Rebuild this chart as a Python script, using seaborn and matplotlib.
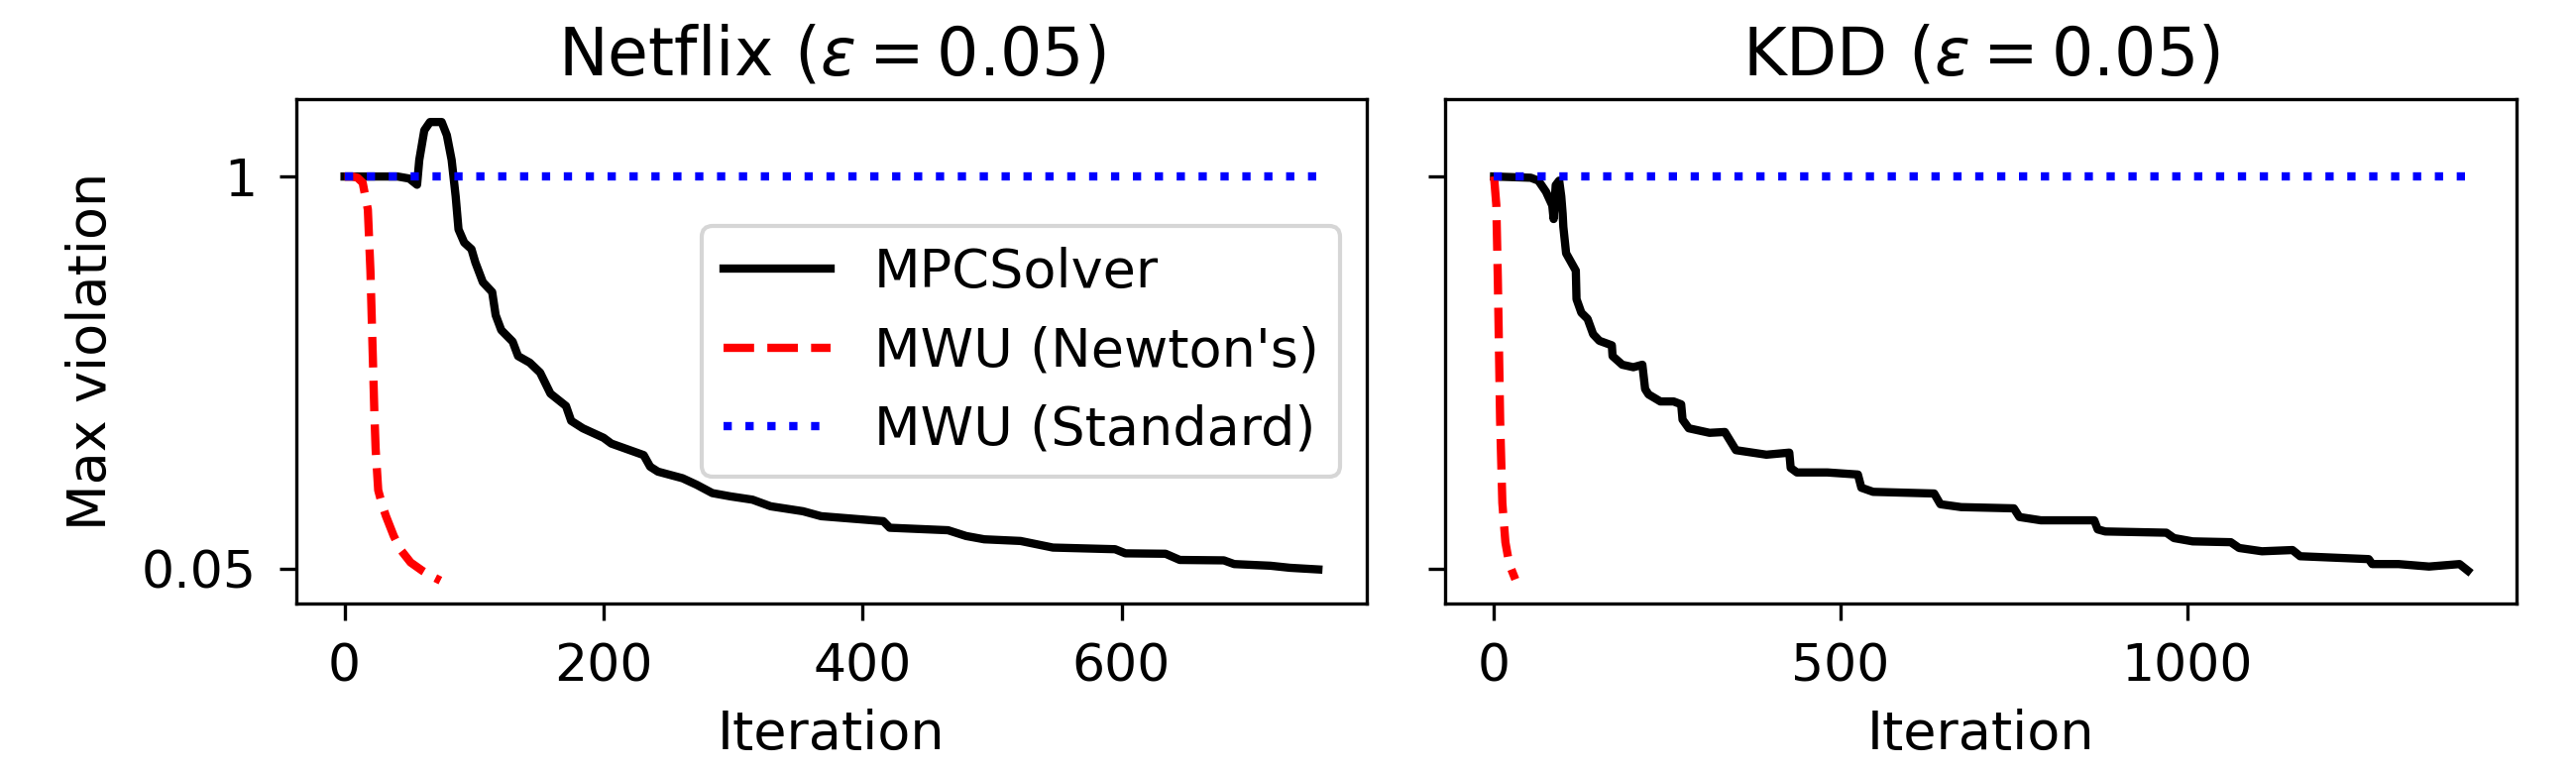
import numpy as np
import pandas as pd
import matplotlib
matplotlib.use("Agg")
import matplotlib.pyplot as plt
import seaborn as sns

# Netflix panel
nf_mpc_it = [0, 41, 50, 56, 57.7, 61.6, 66, 75, 79, 82.7, 85.8, 88, 92.4, 98, 101, 106.8,
             114, 116.7, 121, 129.8, 134, 143, 151, 159, 171, 175, 184, 200, 206, 231, 236,
             242, 261, 272, 284, 298, 315, 329, 354, 368, 416, 421, 466, 480, 494, 522, 547,
             595, 603, 634, 645, 679, 687, 715, 730, 752]
nf_mpc_val = [1.0, 1.0, 0.995, 0.98, 1.04, 1.112, 1.132, 1.132, 1.10, 1.04, 0.952, 0.872, 0.84,
              0.824, 0.792, 0.744, 0.72, 0.664, 0.628, 0.60, 0.565, 0.549, 0.525, 0.474, 0.444,
              0.408, 0.39, 0.367, 0.353, 0.325, 0.297, 0.285, 0.269, 0.253, 0.233, 0.225, 0.217,
              0.201, 0.189, 0.177, 0.165, 0.149, 0.143, 0.129, 0.121, 0.117, 0.101, 0.097, 0.087,
              0.086, 0.071, 0.070, 0.061, 0.057, 0.052, 0.048]
nf_newton_it = [0, 6, 10, 14, 18, 20, 21.5, 23, 24, 26, 29, 32, 38, 43, 51, 60, 67, 74]
nf_newton_val = [1.0, 1.0, 0.997, 0.985, 0.92, 0.77, 0.6, 0.43, 0.34, 0.24, 0.205, 0.177,
                 0.129, 0.097, 0.065, 0.045, 0.032, 0.021]
nf_std_it = [0, 752]
nf_std_val = [1.0, 1.0]

# KDD panel
kdd_mpc_it = [0, 53, 64, 75, 84, 86, 89, 94, 97, 99, 100, 104, 111, 118, 119, 126, 135, 143,
              152, 170, 171, 185, 201, 214, 218, 223, 240, 259, 270, 272, 281, 311, 333, 349,
              393, 426, 428, 437, 481, 525, 530, 547, 635, 644, 674, 750, 758, 789, 866, 871,
              882, 970, 981, 1008, 1063, 1075, 1108, 1152, 1163, 1262, 1267, 1305, 1349, 1393,
              1405]
kdd_mpc_val = [1.0, 0.997, 0.99, 0.963, 0.93, 0.897, 0.979, 0.99, 0.952, 0.91, 0.878, 0.814,
               0.793, 0.772, 0.703, 0.67, 0.655, 0.618, 0.602, 0.591, 0.565, 0.544, 0.538, 0.544,
               0.485, 0.472, 0.455, 0.455, 0.448, 0.411, 0.39, 0.379, 0.381, 0.337, 0.326, 0.331,
               0.294, 0.283, 0.283, 0.278, 0.246, 0.236, 0.232, 0.206, 0.199, 0.196, 0.175, 0.167,
               0.167, 0.145, 0.14, 0.137, 0.124, 0.116, 0.114, 0.10, 0.092, 0.095, 0.08, 0.073,
               0.061, 0.061, 0.055, 0.061, 0.045]
kdd_newton_it = [0, 3.3, 5.5, 8.8, 12, 16.4, 22, 30.7]
kdd_newton_val = [1.0, 0.931, 0.75, 0.41, 0.209, 0.114, 0.061, 0.024]
kdd_std_it = [0, 1405]
kdd_std_val = [1.0, 1.0]

titles = [r'Netflix ($\varepsilon = 0.05$)', r'KDD ($\varepsilon = 0.05$)']
labels = ['MPCSolver', "MWU (Newton's)", 'MWU (Standard)']
colors = ['black', 'red', 'blue']
styles = ['-', '--', ':']

panels = [
    [(nf_mpc_it, nf_mpc_val), (nf_newton_it, nf_newton_val), (nf_std_it, nf_std_val)],
    [(kdd_mpc_it, kdd_mpc_val), (kdd_newton_it, kdd_newton_val), (kdd_std_it, kdd_std_val)],
]

plt.rcParams['font.size'] = 13
plt.rcParams['xtick.labelsize'] = 12.5
plt.rcParams['ytick.labelsize'] = 12.5
plt.rcParams['xtick.major.size'] = 4
plt.rcParams['ytick.major.size'] = 4
plt.rcParams['xtick.major.pad'] = 5.5
plt.rcParams['ytick.major.pad'] = 5.5

fig, axes = plt.subplots(1, 2, figsize=(2599 / 300, 777 / 300), dpi=300, sharey=True)
fig.subplots_adjust(left=298.5 / 2599, right=2539 / 2599, top=1 - 100 / 777,
                    bottom=1 - 609 / 777, wspace=79 / 1081)

for ax, title, series in zip(axes, titles, panels):
    for (it, val), lab, col, ls in zip(series, labels, colors, styles):
        df = pd.DataFrame({'Iteration': it, 'Max violation': val})
        sns.lineplot(data=df, x='Iteration', y='Max violation', ax=ax, color=col,
                     linestyle=ls, linewidth=2, label=lab, estimator=None, sort=False)
    ax.set_title(title, fontsize=16)
    ax.set_xlabel('Iteration', fontsize=13)

axes[0].set_yticks([0.05, 1])
axes[0].set_yticklabels(['0.05', '1'])
axes[0].set_ylabel('Max violation', fontsize=13, labelpad=6)
axes[1].set_ylabel('')
axes[0].legend(loc='center right', fontsize=13)
axes[1].get_legend().remove()

plt.savefig('out.png', dpi=300)
